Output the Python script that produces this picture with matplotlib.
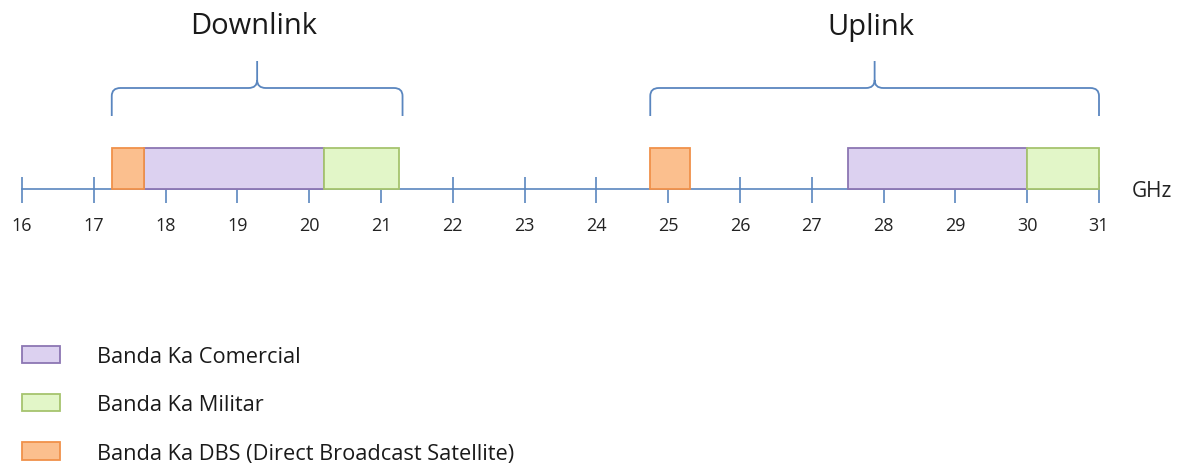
import numpy as np
import matplotlib.pyplot as plt
from matplotlib.patches import Rectangle, Patch, PathPatch
from matplotlib.path import Path

plt.rcParams["font.family"] = ["Open Sans", "DejaVu Sans"]

# frequency axis (GHz)
ticks = list(range(16, 32))

# bands: (start, end) in GHz
comercial = [(17.7, 20.2), (27.5, 30.0)]
militar = [(20.2, 21.25), (30.0, 31.0)]
dbs = [(17.25, 17.7), (24.75, 25.3)]

groups = ["Downlink", "Uplink"]
group_span = [(17.25, 21.3), (24.75, 31.0)]

legend_labels = ["Banda Ka Comercial", "Banda Ka Militar",
                 "Banda Ka DBS (Direct Broadcast Satellite)"]

line_col = "#5a86bf"
purple = ("#dcd1f0", "#8c76b3")
green = ("#e2f6c8", "#a6c46e")
orange = ("#fbbf8e", "#f0914a")

W, H = 1180, 464
fig = plt.figure(figsize=(W / 100, H / 100), dpi=100)
ax = fig.add_axes([0, 0, 1, 1])
px = 71.8  # pixels per GHz
x0 = 16 - 22 / px
ax.set_xlim(x0, x0 + W / px)
ax.set_ylim(H, 0)
ax.set_axis_off()

axis_y = 190
bar_h = 41

# main axis line and ticks
ax.plot([ticks[0], ticks[-1]], [axis_y, axis_y], color=line_col, lw=1.2, zorder=1)
ax.vlines(ticks, axis_y - 12, axis_y + 14, color=line_col, lw=1.2, zorder=1)
for t in ticks:
    ax.text(t, 226, str(t), ha="center", va="center", fontsize=13, color="#222222")
ax.text(ticks[-1] + 0.46, 192, "GHz", ha="left", va="center", fontsize=15, color="#222222")

# bands
for bands, (fc, ec) in [(comercial, purple), (militar, green), (dbs, orange)]:
    for a, b in bands:
        ax.add_patch(Rectangle((a, axis_y - bar_h), b - a, bar_h, facecolor=fc,
                               edgecolor=ec, lw=1.3, zorder=3))

# braces
def brace(a, b, y_top=62, y_mid=89, y_end=117):
    m = (a + b) / 2
    r = 0.12
    ry = 8
    verts = [(a, y_end), (a, y_mid + ry), (a, y_mid), (a + r, y_mid),
             (m - r, y_mid), (m, y_mid), (m, y_mid - ry), (m, y_top),
             (m, y_mid - ry), (m, y_mid), (m + r, y_mid),
             (b - r, y_mid), (b, y_mid), (b, y_mid + ry), (b, y_end)]
    codes = [Path.MOVETO, Path.LINETO, Path.CURVE3, Path.CURVE3,
             Path.LINETO, Path.CURVE3, Path.CURVE3, Path.LINETO,
             Path.MOVETO, Path.CURVE3, Path.CURVE3,
             Path.LINETO, Path.CURVE3, Path.CURVE3, Path.LINETO]
    ax.add_patch(PathPatch(Path(verts, codes), facecolor="none",
                           edgecolor=line_col, lw=1.3))

for name, (a, b) in zip(groups, group_span):
    brace(a, b)
    ax.text((a + b) / 2 - 0.05, 27, name, ha="center", va="center",
            fontsize=21, color="#1a1a1a")

handles = [Patch(facecolor=fc, edgecolor=ec, lw=1.3) for fc, ec in [purple, green, orange]]
ax.legend(handles, legend_labels, loc="upper left", frameon=False,
          bbox_to_anchor=(22 / W, 1 - 347 / H), bbox_transform=fig.transFigure,
          fontsize=15.7, borderpad=0, borderaxespad=0, handlelength=1.75,
          handleheight=0.84, handletextpad=1.7, labelspacing=1.24,
          labelcolor="#1a1a1a")

plt.savefig("out.png", dpi=100)
